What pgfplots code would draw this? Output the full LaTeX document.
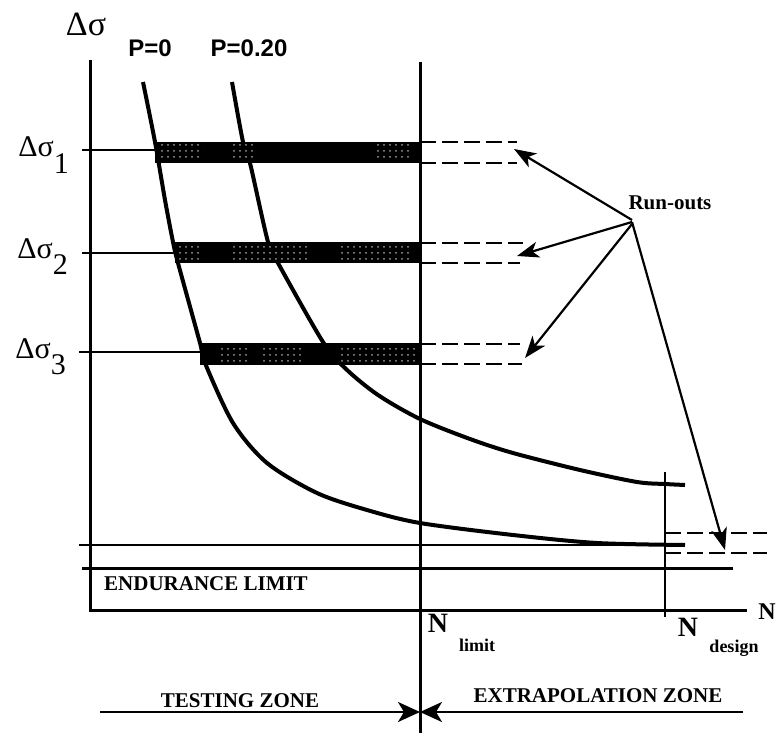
\documentclass[border=0pt]{standalone}
\usepackage{pgfplots}
\pgfplotsset{compat=1.18}
\usepackage{fontspec}
\setmainfont{Liberation Serif}
\newfontfamily\helv{Liberation Sans}
\usetikzlibrary{arrows.meta,patterns}

% one unit = one pixel of the reference (777 x 733), y measured downwards
\pgfplotsset{
  thinline/.style={black, line width=1pt},
  axline/.style={black, line width=1.5pt},
  curve/.style={black, line width=2pt, smooth, tension=0.5},
  runout/.style={black, line width=1pt, dash pattern=on 8pt off 3pt},
  bar/.style={fill=black, draw=none},
  stipple/.style={pattern=dots, pattern color=gray!80, draw=none},
  ptr/.style={black, line width=1.1pt, -{Stealth[length=11pt,width=8pt,inset=3pt]}},
  zone/.style={black, line width=1.2pt, -{Stealth[length=11pt,width=10pt,inset=3pt]}},
}
\newcommand{\lbl}{\fontsize{10.5}{12}\selectfont\bfseries}

\begin{document}
\begin{tikzpicture}
\begin{axis}[
  scale only axis, width=388.5pt, height=366.5pt,
  xmin=0, xmax=777, ymin=0, ymax=733, y dir=reverse,
  hide axis, clip=false,
]

% axes and frame lines
\addplot[axline] coordinates {(90,60) (90,610) (747,610)};
\addplot[axline] coordinates {(420,62) (420,733)};
\addplot[thinline] coordinates {(665,472) (665,617)};
\addplot[axline] coordinates {(82,568) (733,568)};
\addplot[thinline, line width=1.2pt] coordinates {(79,545) (685,545)};

% stress levels
\addplot[thinline] coordinates {(82,150) (155,150)};
\addplot[thinline] coordinates {(82,253) (175,253)};
\addplot[thinline] coordinates {(79,352) (200,352)};

% S-N curves
\addplot[curve] coordinates {
  (143,82) (155,142) (165,200) (173,242) (178,263) (200,343) (205,363)
  (233,423) (267,463) (317,493) (367,510) (420,523) (513,535) (597,543) (685,545)};
\addplot[curve] coordinates {
  (232,82) (243,142) (250,163) (268,242) (278,263) (323,342) (346,369)
  (378,395) (420,419) (470,439) (513,453) (580,470) (637,482) (665,484) (685,485)};

% test bars
\addplot[bar] coordinates {(155,142) (420,142) (420,163) (155,163)} -- cycle;
\addplot[bar] coordinates {(175,242) (420,242) (420,263) (175,263)} -- cycle;
\addplot[bar] coordinates {(200,343) (420,343) (420,365) (200,365)} -- cycle;
\addplot[stipple] coordinates {(158,145) (203,145) (203,160) (158,160)} -- cycle;
\addplot[stipple] coordinates {(232,145) (256,145) (256,160) (232,160)} -- cycle;
\addplot[stipple] coordinates {(377,145) (413,145) (413,160) (377,160)} -- cycle;
\addplot[stipple] coordinates {(178,245) (203,245) (203,260) (178,260)} -- cycle;
\addplot[stipple] coordinates {(233,245) (307,245) (307,260) (233,260)} -- cycle;
\addplot[stipple] coordinates {(337,245) (413,245) (413,260) (337,260)} -- cycle;
\addplot[stipple] coordinates {(217,346) (247,346) (247,362) (217,362)} -- cycle;
\addplot[stipple] coordinates {(260,346) (303,346) (303,362) (260,362)} -- cycle;
\addplot[stipple] coordinates {(337,346) (415,346) (415,362) (337,362)} -- cycle;

% run-outs
\addplot[runout] coordinates {(420,142) (517,142)};
\addplot[runout] coordinates {(420,163) (517,163)};
\addplot[runout] coordinates {(420,243) (523,243)};
\addplot[runout] coordinates {(420,263) (520,263)};
\addplot[runout] coordinates {(420,344) (520,344)};
\addplot[runout] coordinates {(420,364) (522,364)};
\addplot[runout] coordinates {(665,533) (767,533)};
\addplot[runout] coordinates {(665,553) (767,553)};

% pointers
\addplot[ptr] coordinates {(632,220) (514,149)};
\addplot[ptr] coordinates {(632,222) (517,256)};
\addplot[ptr] coordinates {(632,224) (525,358)};
\addplot[ptr] coordinates {(632,222) (725,550)};

% zones
\addplot[zone] coordinates {(100,712) (420,712)};
\addplot[zone] coordinates {(743,712) (420,712)};

% text
\node[font=\fontsize{17}{19}\selectfont] at (axis cs:86,24) {Δσ};
\node[font=\helv\fontsize{12}{14}\selectfont\bfseries] at (axis cs:150,48) {P=0};
\node[font=\helv\fontsize{12}{14}\selectfont\bfseries] at (axis cs:249,48) {P=0.20};
\node[anchor=base west, inner sep=0pt, font=\fontsize{15}{17}\selectfont] at (axis cs:18,157) {Δσ\raisebox{-0.55em}{1}};
\node[anchor=base west, inner sep=0pt, font=\fontsize{15}{17}\selectfont] at (axis cs:17,258) {Δσ\raisebox{-0.55em}{2}};
\node[anchor=base west, inner sep=0pt, font=\fontsize{15}{17}\selectfont] at (axis cs:15,358) {Δσ\raisebox{-0.55em}{3}};
\node[font=\lbl] at (axis cs:670,203) {Run-outs};
\node[font=\lbl] at (axis cs:206,584) {ENDURANCE LIMIT};
\node[font=\lbl] at (axis cs:240,701) {TESTING ZONE};
\node[font=\lbl] at (axis cs:598,696) {EXTRAPOLATION ZONE};
\node[font=\fontsize{14}{16}\selectfont\bfseries] at (axis cs:438,623) {N};
\node[font=\fontsize{9}{11}\selectfont\bfseries] at (axis cs:477,645) {limit};
\node[font=\fontsize{14}{16}\selectfont\bfseries] at (axis cs:688,627) {N};
\node[font=\fontsize{9}{11}\selectfont\bfseries] at (axis cs:734,648) {design};
\node[anchor=west, inner sep=0pt, font=\fontsize{12}{14}\selectfont\bfseries] at (axis cs:758,612) {N};

\end{axis}
\pgfresetboundingbox
\path[use as bounding box] (0,0) rectangle (388.5pt,366.5pt);
\end{tikzpicture}
\end{document}
